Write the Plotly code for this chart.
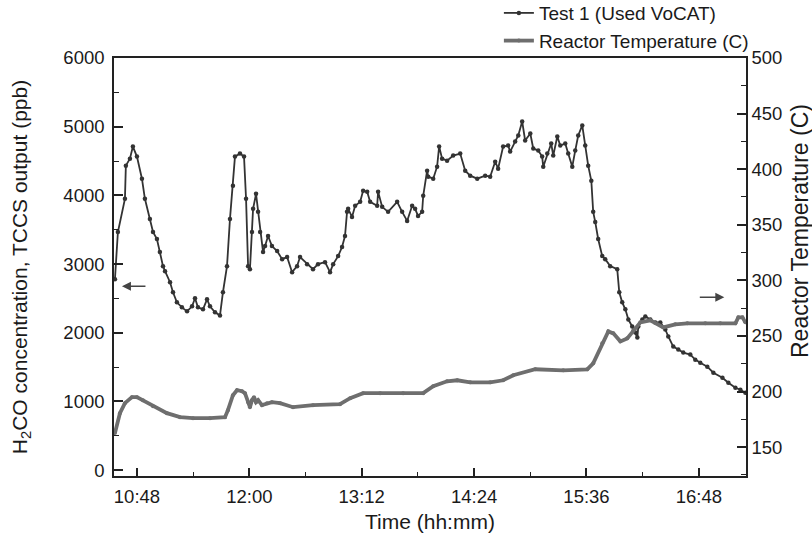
import plotly.graph_objects as go
import pandas as pd

# ---- data (time in minutes since midnight) ----
test1_minutes = [633.9, 635.8, 640.3, 640.9, 643.5, 645.4, 648.0, 651.2, 653.1, 656.3,
                 658.3, 660.8, 662.7, 664.7, 666.0, 669.2, 671.1, 673.6, 676.8, 680.1,
                 683.3, 685.2, 687.1, 690.3, 692.9, 694.8, 698.0, 701.2, 703.1, 705.7,
                 707.6, 709.5, 710.8, 714.0, 716.6, 717.9, 719.2, 720.4, 721.7, 722.4,
                 724.3, 725.6, 726.9, 728.8, 730.1, 732.0, 734.5, 737.8, 741.0, 744.2,
                 747.4, 750.6, 752.5, 757.0, 760.8, 764.0, 768.5, 771.7, 773.7, 776.9,
                 779.4, 781.3, 782.6, 783.3, 785.8, 787.8, 791.0, 792.9, 795.5, 797.4,
                 801.9, 802.5, 805.1, 808.9, 814.7, 817.9, 821.1, 824.3, 826.2, 828.1,
                 830.7, 831.4, 833.9, 834.6, 837.8, 840.3, 841.6, 843.5, 846.7, 850.6,
                 855.1, 858.3, 861.5, 866.0, 871.1, 874.3, 877.5, 879.4, 882.6, 885.8,
                 887.1, 890.3, 892.3, 894.8, 896.7, 900.0, 901.9, 905.1, 907.6, 908.3,
                 910.9, 913.4, 914.7, 917.3, 919.2, 922.4, 924.3, 926.9, 928.8, 930.7,
                 933.3, 935.2, 937.1, 939.1, 940.3, 941.6, 943.5, 946.1, 948.0, 951.2,
                 955.7, 957.0, 958.9, 960.9, 962.8, 965.3, 967.3, 968.6, 969.2, 971.8,
                 973.7, 976.9, 980.1, 983.3, 986.5, 988.4, 991.6, 994.8, 998.0, 1002.5,
                 1005.7, 1008.9, 1013.4, 1017.3, 1023.1, 1026.9, 1031.4, 1034.6, 1037.8]
test1_ppb = [2780, 3467, 3950, 4433, 4535, 4711, 4565, 4243, 3950, 3658,
             3467, 3365, 3175, 2970, 2897, 2736, 2590, 2443, 2370, 2312,
             2385, 2502, 2370, 2341, 2487, 2385, 2297, 2253, 2590, 2970,
             3658, 4140, 4565, 4608, 4565, 3950, 2970, 2926, 3467, 3804,
             4023, 3760, 3467, 3175, 3262, 3409, 3262, 3189, 3072, 3102,
             2882, 2970, 3102, 2999, 2926, 2999, 3028, 2882, 2999, 3116,
             3248, 3409, 3760, 3804, 3687, 3848, 3906, 4067, 4053, 3906,
             3848, 4053, 3833, 3760, 3906, 3760, 3628, 3848, 3804, 3701,
             3760, 3994, 4360, 4272, 4243, 4418, 4711, 4535, 4506, 4579,
             4608, 4360, 4287, 4243, 4287, 4272, 4491, 4389, 4711, 4725,
             4638, 4784, 4872, 5077, 4799, 4901, 4682, 4652, 4565, 4418,
             4608, 4755, 4579, 4857, 4725, 4755, 4608, 4418, 4652, 4872,
             5018, 4725, 4433, 4213, 3760, 3614, 3365, 3116, 3072, 2970,
             2926, 2590, 2443, 2341, 2195, 2092, 2004, 1931, 2092, 2195,
             2238, 2195, 2151, 2151, 2048, 1946, 1799, 1756, 1712, 1682,
             1609, 1565, 1507, 1419, 1346, 1273, 1200, 1170, 1127]

temp_minutes = [633.9, 637.1, 640.3, 644.8, 648.0, 651.8, 658.3, 667.2, 675.6, 683.9,
                694.8, 704.4, 706.3, 709.5, 712.1, 715.3, 717.2, 719.2, 720.4, 721.7,
                723.0, 724.3, 725.6, 728.1, 731.3, 734.5, 739.7, 748.0, 760.8, 778.1,
                784.6, 792.9, 803.8, 818.5, 831.4, 837.8, 846.7, 853.2, 861.5, 874.3,
                882.6, 889.1, 903.2, 921.1, 936.5, 940.3, 946.1, 950.0, 953.2, 957.7,
                962.1, 966.0, 970.5, 976.9, 985.2, 992.9, 1000.6, 1012.1, 1021.7, 1031.4,
                1033.3, 1035.9, 1037.8]
temp_c = [162.6, 180.5, 189.5, 194.9, 194.9, 192.2, 186.8, 180.5, 176.9, 176.0,
          176.0, 176.9, 183.2, 196.7, 201.2, 200.3, 198.5, 190.4, 185.9, 192.2,
          194.9, 190.4, 192.2, 187.7, 189.5, 190.4, 189.5, 185.9, 187.7, 188.6,
          194.0, 198.5, 198.5, 198.5, 198.5, 204.7, 209.2, 210.1, 208.3, 208.3,
          210.1, 214.6, 220.0, 219.1, 220.0, 225.4, 243.3, 254.1, 252.3, 245.1,
          247.8, 255.0, 262.2, 264.0, 257.7, 260.4, 261.3, 261.3, 261.3, 261.3,
          266.7, 266.7, 262.2]

tick_labels = ["10:48", "12:00", "13:12", "14:24", "15:36", "16:48"]
series_names = ["Test 1 (Used VoCAT)", "Reactor Temperature (C)"]
right_axis_title = "Reactor Temperature (C)"

base = pd.Timestamp("2000-01-01")


def to_dt(mins):
    return [base + pd.Timedelta(minutes=m) for m in mins]


def hhmm_to_dt(s):
    h, m = s.split(":")
    return base + pd.Timedelta(hours=int(h), minutes=int(m))


FONT = "Arial, 'Liberation Sans', sans-serif"
TXT = "#1a1a1a"
AX = "#222222"

fig = go.Figure()
fig.add_trace(go.Scatter(
    x=to_dt(test1_minutes), y=test1_ppb, name=series_names[0],
    mode="lines+markers",
    line=dict(color="#333333", width=1.8),
    marker=dict(color="#333333", size=4.5, symbol="circle"),
    yaxis="y"))
fig.add_trace(go.Scatter(
    x=to_dt(temp_minutes), y=temp_c, name=series_names[1],
    mode="lines+markers",
    line=dict(color="#6e6e6e", width=3.8),
    marker=dict(color="#6e6e6e", size=4, symbol="circle"),
    yaxis="y2"))

tickvals = [hhmm_to_dt(s) for s in tick_labels]

fig.update_layout(
    width=812, height=542,
    margin=dict(l=114, r=66, t=58, b=66, autoexpand=False),
    paper_bgcolor="white", plot_bgcolor="white",
    font=dict(family=FONT, size=18.5, color=TXT),
    showlegend=True,
    legend=dict(x=0.609, y=1.153, xanchor="left", yanchor="top",
                font=dict(size=19, color=TXT), bgcolor="rgba(0,0,0,0)",
                tracegroupgap=0),
    xaxis=dict(
        type="date",
        range=to_dt([633.3, 1038.2]),
        tickmode="array", tickvals=tickvals, ticktext=tick_labels,
        ticks="inside", ticklen=8, tickwidth=1.5, tickcolor=AX,
        ticklabelstandoff=3,
        minor=dict(ticks="inside", ticklen=4, tickwidth=1.2, tickcolor=AX,
                   tick0=tickvals[0], dtick=36 * 60 * 1000),
        showline=True, linecolor=AX, linewidth=1.6, mirror=True,
        showgrid=False, zeroline=False,
        title=dict(text="Time (hh:mm)", font=dict(size=21), standoff=8),
    ),
    yaxis=dict(
        range=[-85, 6000],
        tick0=0, dtick=1000,
        ticks="inside", ticklen=9, tickwidth=1.5, tickcolor=AX,
        ticklabelstandoff=4,
        minor=dict(ticks="inside", ticklen=5, tickwidth=1.2, tickcolor=AX,
                   tick0=0, dtick=500),
        showline=True, linecolor=AX, linewidth=1.6,
        showgrid=False, zeroline=False,
        title=dict(text="H<sub>2</sub>CO concentration, TCCS output (ppb)",
                   font=dict(size=21), standoff=30),
    ),
    yaxis2=dict(
        overlaying="y", side="right",
        range=[124, 500],
        tick0=0, dtick=50,
        ticks="inside", ticklen=9, tickwidth=1.5, tickcolor=AX,
        minor=dict(ticks="inside", ticklen=5, tickwidth=1.2, tickcolor=AX,
                   tick0=0, dtick=25),
        showline=True, linecolor=AX, linewidth=1.6,
        showgrid=False, zeroline=False,
    ),
    annotations=[
        dict(x=to_dt([638.4])[0], y=2677, xref="x", yref="y", ax=25, ay=0,
             text="", showarrow=True, arrowhead=2, arrowsize=1.2,
             arrowwidth=1.5, arrowcolor="#444"),
        dict(x=to_dt([1024.3])[0], y=2516, xref="x", yref="y", ax=-26, ay=0,
             text="", showarrow=True, arrowhead=2, arrowsize=1.2,
             arrowwidth=1.5, arrowcolor="#444"),
        dict(x=1.0854, y=0.586, xref="paper", yref="paper",
             text=right_axis_title, textangle=-90, showarrow=False,
             xanchor="center", yanchor="middle",
             font=dict(size=23, color=TXT)),
    ],
)

fig.write_html("out.html",
               config={"displayModeBar": False},
               post_script="document.body.style.margin='0';document.body.style.overflow='hidden';")
